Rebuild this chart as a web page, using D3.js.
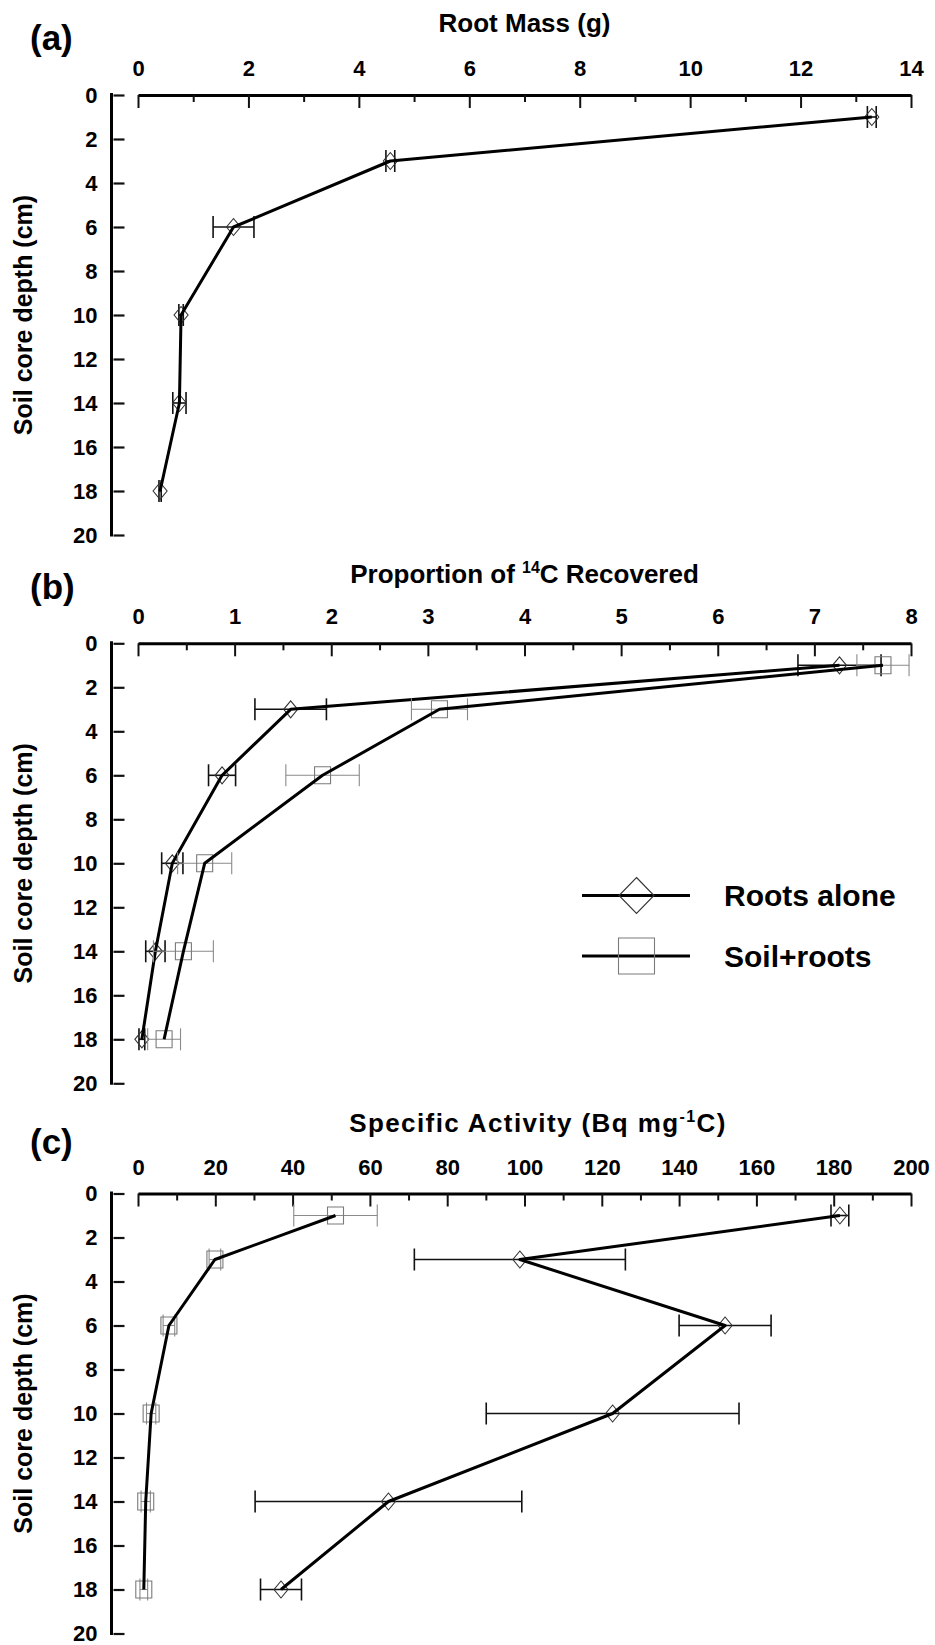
<!DOCTYPE html>
<html>
<head>
<meta charset="utf-8">
<script src="https://cdn.jsdelivr.net/npm/d3@7"></script>
<style>
  html, body { margin: 0; padding: 0; background: #fff; }
  svg { display: block; }
  text { font-family: "Liberation Sans", Arial, sans-serif; font-weight: bold; fill: #000; }
</style>
</head>
<body>
<svg id="chart" width="935" height="1645"></svg>
<script>
// ---------------- DATA ----------------
const depths = [1, 3, 6, 10, 14, 18];
const depthTicks = [0, 2, 4, 6, 8, 10, 12, 14, 16, 18, 20];

// (a) Root mass (g)
const rootMassTicks = [0, 2, 4, 6, 8, 10, 12, 14];
const rootMass      = [13.29, 4.57, 1.73, 0.78, 0.75, 0.40];
const rootMassErr   = [0.08, 0.08, 0.37, 0.04, 0.12, 0.02];

// (b) Proportion of 14C recovered
const propTicks      = [0, 1, 2, 3, 4, 5, 6, 7, 8];
const propRoots      = [7.26, 1.58, 0.87, 0.355, 0.18, 0.04];
const propRootsErr   = [0.43, 0.37, 0.14, 0.11, 0.10, 0.03];
const propSoil       = [7.71, 3.12, 1.91, 0.69, 0.47, 0.27];
const propSoilErr    = [0.27, 0.29, 0.38, 0.28, 0.31, 0.17];

// (c) Specific activity (Bq mg-1 C)
const actTicks      = [0, 20, 40, 60, 80, 100, 120, 140, 160, 180, 200];
const actRoots      = [181.6, 98.8, 151.9, 122.8, 64.8, 37.0];
const actRootsErr   = [2.3, 27.3, 11.9, 32.7, 34.5, 5.3];
const actSoil       = [51.1, 19.9, 8.0, 3.4, 2.0, 1.5];
const actSoilErr    = [10.8, 1.5, 1.5, 1.2, 1.2, 1.0];

const seriesNames = ["Roots alone", "Soil+roots"];

// ---------------- LAYOUT ----------------
const svg = d3.select("#chart");
const X0 = 138, X1 = 911;      // x-range of value axis
const YAX = 111.5;             // x position of the depth axis line
const UNIT = 22;               // px per cm of depth

const panels = [
  { tag: "(a)", tagY: 50, titleY: 32, titleX: 524.5, titleLS: 0, top: 95,
    title: [["Root Mass (g)", 0]],
    domain: [0, 14], ticks: rootMassTicks, minor: d3.range(1, 14, 2),
    series: [{ vals: rootMass, err: rootMassErr, shape: "diamond" }] },
  { tag: "(b)", tagY: 599, titleY: 583, titleX: 524.5, titleLS: 0, top: 643.3,
    title: [["Proportion of ", 0], ["14", 1], ["C Recovered", 0]],
    domain: [0, 8], ticks: propTicks, minor: d3.range(0.5, 8, 1),
    series: [{ vals: propRoots, err: propRootsErr, shape: "diamond" },
             { vals: propSoil, err: propSoilErr, shape: "square" }],
    legend: true },
  { tag: "(c)", tagY: 1154, titleY: 1132, titleX: 538, titleLS: 1.4, top: 1193.5,
    title: [["Specific Activity (Bq mg", 0], ["-1", 1], ["C)", 0]],
    domain: [0, 200], ticks: actTicks, minor: d3.range(10, 200, 20),
    series: [{ vals: actRoots, err: actRootsErr, shape: "diamond" },
             { vals: actSoil, err: actSoilErr, shape: "square" }] }
];

const styles = {
  diamond: { err: "#111", errW: 1.6, mark: "#333" },
  square:  { err: "#8a8a8a", errW: 1.1, mark: "#7a7a7a" }
};

function markerPath(shape, w, h) {
  if (shape === "diamond") return `M0,${-h/2}L${w/2},0L0,${h/2}L${-w/2},0Z`;
  return `M${-w/2},${-h/2}H${w/2}V${h/2}H${-w/2}Z`;
}

panels.forEach(p => {
  const g = svg.append("g");
  const x = d3.scaleLinear().domain(p.domain).range([X0, X1]);
  const y = d3.scaleLinear().domain([0, 20]).range([p.top, p.top + 20 * UNIT]);

  // panel tag
  g.append("text").attr("x", 30).attr("y", p.tagY)
    .style("font-size", "35px").text(p.tag);

  // title
  const t = g.append("text").attr("x", p.titleX).attr("y", p.titleY)
    .attr("text-anchor", "middle").style("font-size", "26px")
    .style("letter-spacing", p.titleLS + "px");
  p.title.forEach(([s, sup], i) => {
    const ts = t.append("tspan").text(s);
    if (sup) ts.attr("dy", -10).style("font-size", "16px");
    else if (i > 0 && p.title[i - 1][1]) ts.attr("dy", 10);
  });

  // value axis (top)
  const xa = g.append("g").attr("transform", `translate(0,${p.top})`)
    .call(d3.axisTop(x).tickValues(p.ticks).tickSizeInner(-13).tickSizeOuter(0)
      .tickPadding(19).tickFormat(d3.format("d")));
  xa.select(".domain").attr("stroke-width", 3).attr("stroke", "#000");
  xa.selectAll(".tick line").attr("stroke-width", 2).attr("stroke", "#111");
  xa.selectAll(".tick text").style("font-size", "22px").style("font-family", "'Liberation Sans', Arial, sans-serif").style("font-weight", "bold");
  const xm = g.append("g").attr("transform", `translate(0,${p.top})`)
    .call(d3.axisTop(x).tickValues(p.minor).tickSizeInner(-7).tickSizeOuter(0).tickFormat(""));
  xm.select(".domain").remove();
  xm.selectAll(".tick line").attr("stroke-width", 2).attr("stroke", "#111");

  // depth axis (left)
  const ya = g.append("g").attr("transform", `translate(${YAX},0)`)
    .call(d3.axisLeft(y).tickValues(depthTicks).tickSizeInner(-13).tickSizeOuter(0)
      .tickPadding(14).tickFormat(d3.format("d")));
  ya.select(".domain").attr("stroke-width", 3).attr("stroke", "#000")
    .attr("d", `M0,${y(0) - 2}V${y(20) + 1.5}`);
  ya.selectAll(".tick line").attr("stroke-width", 2.2).attr("stroke", "#111").attr("x1", 2);
  ya.selectAll(".tick text").style("font-size", "22px").style("font-family", "'Liberation Sans', Arial, sans-serif").style("font-weight", "bold");

  // depth axis title
  g.append("text")
    .attr("transform", `translate(32,${y(10)}) rotate(-90)`)
    .attr("text-anchor", "middle").style("font-size", "25px")
    .text("Soil core depth (cm)");

  // series
  p.series.forEach(s => {
    const st = styles[s.shape];
    const pts = depths.map((d, i) => ({ d, v: s.vals[i], e: s.err[i] }));
    const eg = g.append("g");
    pts.forEach(pt => {
      const yy = y(pt.d), xl = x(pt.v - pt.e), xr = x(pt.v + pt.e);
      eg.append("line").attr("x1", xl).attr("x2", xr).attr("y1", yy).attr("y2", yy)
        .attr("stroke", st.err).attr("stroke-width", st.errW);
      [xl, xr].forEach(xx => eg.append("line").attr("x1", xx).attr("x2", xx)
        .attr("y1", yy - 11).attr("y2", yy + 11)
        .attr("stroke", st.err).attr("stroke-width", st.errW));
    });
    g.append("g").selectAll("path").data(pts).join("path")
      .attr("transform", d => `translate(${x(d.v)},${y(d.d)})`)
      .attr("d", markerPath(s.shape, s.shape === "diamond" ? 14 : 16, 17))
      .attr("fill", "none").attr("stroke", st.mark).attr("stroke-width", 1.1);
    g.append("path").datum(pts)
      .attr("d", d3.line().x(d => x(d.v)).y(d => y(d.d)))
      .attr("fill", "none").attr("stroke", "#000").attr("stroke-width", 3)
      .attr("stroke-linejoin", "round");
  });

  // legend
  if (p.legend) {
    const lg = g.append("g");
    [["diamond", 895.5, 906], ["square", 956, 967]].forEach(([shape, ly, ty], i) => {
      lg.append("line").attr("x1", 582).attr("x2", 690).attr("y1", ly).attr("y2", ly)
        .attr("stroke", "#000").attr("stroke-width", 3);
      lg.append("path").attr("transform", `translate(636.5,${ly})`)
        .attr("d", markerPath(shape, shape === "diamond" ? 35 : 36, 36))
        .attr("fill", "none").attr("stroke", styles[shape].mark).attr("stroke-width", 1.1);
      lg.append("text").attr("x", 724).attr("y", ty).style("font-size", "30px").text(seriesNames[i]);
    });
  }
});
</script>
</body>
</html>
